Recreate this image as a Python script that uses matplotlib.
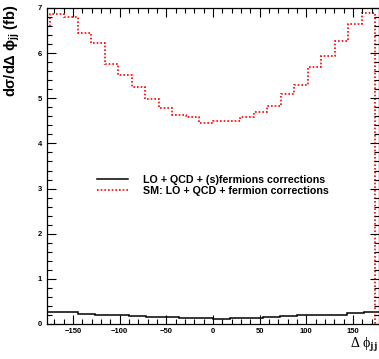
import numpy as np
import matplotlib
matplotlib.use("Agg")
import matplotlib.pyplot as plt
from matplotlib.ticker import MultipleLocator

# SM: LO + QCD + fermion corrections (red, dotted), 24 bins of 14.5 deg
red_edges = np.linspace(-174, 174, 25)
red_values = [6.87, 6.81, 6.44, 6.22, 5.76, 5.52, 5.26, 4.98, 4.78, 4.63, 4.58, 4.45,
              4.50, 4.50, 4.59, 4.70, 4.83, 5.09, 5.29, 5.70, 5.94, 6.28, 6.65, 6.90]
red_first_edge = -177.4
red_first_value = 6.6

# LO + QCD + (s)fermions corrections (black, solid), 20 bins of 18 deg
black_edges = np.linspace(-180, 180, 21)
black_values = [0.27, 0.26, 0.23, 0.21, 0.19, 0.17, 0.155, 0.145, 0.135, 0.125,
                0.12, 0.125, 0.14, 0.16, 0.17, 0.19, 0.20, 0.21, 0.24, 0.27]

legend_labels = ["LO + QCD + (s)fermions corrections",
                 "SM: LO + QCD + fermion corrections"]

plt.rcParams["font.family"] = ["Liberation Sans", "DejaVu Sans"]
plt.rcParams["font.weight"] = "bold"
plt.rcParams["mathtext.fontset"] = "custom"
plt.rcParams["mathtext.rm"] = "Liberation Sans:bold"
plt.rcParams["mathtext.it"] = "Liberation Sans:bold"
plt.rcParams["mathtext.bf"] = "Liberation Sans:bold"

fig = plt.figure(figsize=(3.79, 3.59), dpi=100)
ax = fig.add_axes([47.3 / 379, 35 / 359, 331.2 / 379, 316 / 359])

ax.stairs(black_values, black_edges, baseline=None, color="black", linewidth=1.1,
          label=legend_labels[0])
ax.stairs([red_first_value] + red_values, np.concatenate([[red_first_edge], red_edges]),
          baseline=0, color="red", linewidth=1.2, linestyle=(0, (1, 1.2)),
          label=legend_labels[1])

ax.set_xlim(-177.4, 177.4)
ax.set_ylim(0, 7)

ax.xaxis.set_major_locator(MultipleLocator(50))
ax.xaxis.set_minor_locator(MultipleLocator(10))
ax.yaxis.set_major_locator(MultipleLocator(1))
ax.yaxis.set_minor_locator(MultipleLocator(0.2))
ax.tick_params(which="both", direction="in", top=True, right=True, width=0.8,
               labelsize=5.5)
ax.tick_params(which="major", length=6.5)
ax.tick_params(which="minor", length=3.3)
ax.tick_params(axis="x", pad=3)
ax.tick_params(axis="y", pad=4)
for side in ax.spines.values():
    side.set_linewidth(0.9)

ax.set_ylabel(r"d$\sigma$/d$\Delta$ $\phi_{jj}$ (fb)", fontsize=10.5, fontweight="bold")
ax.yaxis.set_label_coords(-0.076, 1.01)
ax.yaxis.label.set_horizontalalignment("right")

fig.text(378 / 379, 5 / 359, r"Δ ϕ$_{\mathrm{jj}}$", fontsize=10,
         family=["Liberation Serif", "DejaVu Serif"], fontweight="normal",
         ha="right", va="bottom", math_fontfamily="stix")

handles, labels = ax.get_legend_handles_labels()
ax.legend(handles, labels, loc="upper left", bbox_to_anchor=(0.151, 0.473),
          frameon=False, fontsize=7.7, handlelength=2.9, handletextpad=1.4,
          labelspacing=0.12, borderpad=0, borderaxespad=0)

fig.savefig("out.png", dpi=100)
